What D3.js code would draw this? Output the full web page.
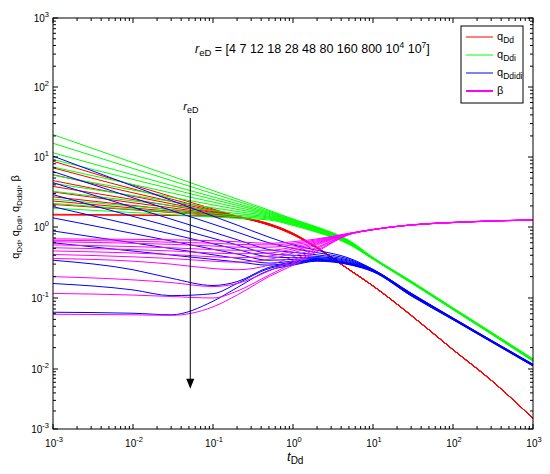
<!DOCTYPE html>
<html>
<head>
<meta charset="utf-8">
<script src="https://cdn.jsdelivr.net/npm/d3@7"></script>
<style>
body { margin: 0; background: #fff; }
text { font-family: "Liberation Sans", Arial, Helvetica, sans-serif; fill: #000; }
</style>
</head>
<body>
<script>
// dimensionless time grid shared by every curve
var tGrid = [0.001, 0.01, 0.03, 0.1, 0.2, 0.5, 1, 2, 5, 10, 30, 100, 300, 1000];
var reDLabels = ["4", "7", "12", "18", "28", "48", "80", "160", "800", "10^4", "10^7"];

// q_Dd, one row per reD
var qDd = [
  [1.48, 1.47, 1.46, 1.42, 1.36, 1.06, 0.78, 0.500, 0.252, 0.148, 0.057, 0.0187, 0.0065, 0.0015],
  [1.52, 1.49, 1.47, 1.43, 1.37, 1.07, 0.78, 0.502, 0.252, 0.148, 0.057, 0.0187, 0.0065, 0.0015],
  [2.10, 1.76, 1.61, 1.47, 1.39, 1.07, 0.79, 0.503, 0.252, 0.148, 0.057, 0.0187, 0.0065, 0.0015],
  [2.35, 1.87, 1.68, 1.49, 1.39, 1.08, 0.79, 0.505, 0.252, 0.148, 0.057, 0.0187, 0.0065, 0.0015],
  [2.70, 2.03, 1.77, 1.53, 1.40, 1.08, 0.79, 0.506, 0.252, 0.148, 0.057, 0.0187, 0.0065, 0.0015],
  [3.17, 2.22, 1.88, 1.56, 1.40, 1.09, 0.80, 0.508, 0.252, 0.148, 0.057, 0.0187, 0.0065, 0.0015],
  [3.80, 2.47, 2.01, 1.61, 1.41, 1.09, 0.80, 0.509, 0.252, 0.148, 0.057, 0.0187, 0.0065, 0.0015],
  [4.60, 2.75, 2.15, 1.65, 1.41, 1.10, 0.80, 0.511, 0.252, 0.148, 0.057, 0.0187, 0.0065, 0.0015],
  [5.60, 3.08, 2.32, 1.70, 1.42, 1.10, 0.81, 0.512, 0.252, 0.148, 0.057, 0.0187, 0.0065, 0.0015],
  [7.00, 3.50, 2.51, 1.75, 1.42, 1.11, 0.81, 0.514, 0.252, 0.148, 0.057, 0.0187, 0.0065, 0.0015],
  [8.70, 3.97, 2.73, 1.81, 1.43, 1.12, 0.82, 0.515, 0.252, 0.148, 0.057, 0.0187, 0.0065, 0.0015]
];

// q_Ddi
var qDdi = [
  [1.86, 1.61, 1.50, 1.39, 1.33, 1.26, 1.05, 0.84, 0.57, 0.352, 0.163, 0.0685, 0.0311, 0.0129],
  [2.17, 1.79, 1.64, 1.48, 1.40, 1.30, 1.08, 0.86, 0.58, 0.354, 0.164, 0.0689, 0.0313, 0.0130],
  [2.50, 1.98, 1.78, 1.57, 1.47, 1.34, 1.10, 0.87, 0.58, 0.356, 0.165, 0.0693, 0.0315, 0.0131],
  [3.24, 2.36, 2.03, 1.72, 1.56, 1.38, 1.13, 0.89, 0.59, 0.358, 0.166, 0.0697, 0.0317, 0.0132],
  [4.20, 2.81, 2.32, 1.88, 1.67, 1.42, 1.15, 0.90, 0.60, 0.360, 0.167, 0.0701, 0.0319, 0.0133],
  [5.50, 3.37, 2.67, 2.07, 1.79, 1.47, 1.18, 0.92, 0.61, 0.362, 0.168, 0.0705, 0.0321, 0.0134],
  [7.20, 4.05, 3.07, 2.27, 1.91, 1.52, 1.20, 0.94, 0.62, 0.364, 0.169, 0.0709, 0.0323, 0.0135],
  [9.20, 4.78, 3.50, 2.48, 2.04, 1.57, 1.23, 0.95, 0.62, 0.366, 0.170, 0.0713, 0.0325, 0.0136],
  [11.5, 5.56, 3.94, 2.69, 2.16, 1.62, 1.25, 0.97, 0.63, 0.368, 0.171, 0.0717, 0.0327, 0.0137],
  [15.7, 6.86, 4.62, 3.00, 2.34, 1.68, 1.28, 0.98, 0.64, 0.370, 0.172, 0.0721, 0.0329, 0.0138],
  [20.9, 8.32, 5.36, 3.31, 2.51, 1.74, 1.30, 1.00, 0.65, 0.372, 0.173, 0.0725, 0.0331, 0.0139]
];

// q_Ddidi
var qDdidi = [
  [0.063, 0.061, 0.058, 0.090, 0.140, 0.245, 0.29, 0.330, 0.295, 0.234, 0.107, 0.0494, 0.0241, 0.0110],
  [0.160, 0.130, 0.108, 0.115, 0.160, 0.260, 0.30, 0.335, 0.298, 0.236, 0.108, 0.0497, 0.0243, 0.0111],
  [0.340, 0.250, 0.190, 0.150, 0.170, 0.270, 0.31, 0.340, 0.301, 0.238, 0.109, 0.0500, 0.0244, 0.0111],
  [0.600, 0.458, 0.403, 0.350, 0.323, 0.290, 0.32, 0.345, 0.304, 0.240, 0.110, 0.0503, 0.0245, 0.0112],
  [0.880, 0.598, 0.497, 0.406, 0.362, 0.310, 0.33, 0.350, 0.307, 0.242, 0.111, 0.0506, 0.0247, 0.0113],
  [1.350, 0.810, 0.635, 0.486, 0.417, 0.340, 0.35, 0.360, 0.312, 0.244, 0.112, 0.0509, 0.0248, 0.0113],
  [1.950, 1.064, 0.797, 0.580, 0.484, 0.380, 0.37, 0.370, 0.320, 0.246, 0.113, 0.0512, 0.0249, 0.0114],
  [2.900, 1.417, 1.007, 0.693, 0.559, 0.420, 0.40, 0.385, 0.330, 0.248, 0.114, 0.0515, 0.0251, 0.0115],
  [4.300, 1.909, 1.295, 0.847, 0.663, 0.480, 0.44, 0.405, 0.340, 0.250, 0.115, 0.0518, 0.0252, 0.0115],
  [6.200, 2.610, 1.727, 1.099, 0.846, 0.600, 0.50, 0.435, 0.352, 0.252, 0.116, 0.0521, 0.0253, 0.0116],
  [10.30, 3.840, 2.400, 1.430, 1.066, 0.720, 0.56, 0.470, 0.365, 0.254, 0.117, 0.0524, 0.0255, 0.0117]
];

// beta
var beta = [
  [0.059, 0.058, 0.057, 0.075, 0.110, 0.20, 0.29, 0.45, 0.780, 0.915, 1.065, 1.155, 1.215, 1.255],
  [0.116, 0.110, 0.105, 0.100, 0.125, 0.21, 0.31, 0.47, 0.785, 0.916, 1.066, 1.156, 1.216, 1.256],
  [0.200, 0.180, 0.165, 0.145, 0.160, 0.24, 0.34, 0.50, 0.790, 0.917, 1.067, 1.157, 1.217, 1.257],
  [0.360, 0.330, 0.300, 0.260, 0.250, 0.29, 0.38, 0.52, 0.790, 0.918, 1.068, 1.158, 1.218, 1.258],
  [0.410, 0.380, 0.360, 0.330, 0.320, 0.35, 0.43, 0.56, 0.795, 0.919, 1.069, 1.159, 1.219, 1.259],
  [0.460, 0.430, 0.410, 0.380, 0.370, 0.39, 0.46, 0.58, 0.800, 0.920, 1.070, 1.160, 1.220, 1.260],
  [0.510, 0.480, 0.460, 0.430, 0.420, 0.43, 0.49, 0.60, 0.800, 0.921, 1.071, 1.161, 1.221, 1.261],
  [0.560, 0.530, 0.510, 0.480, 0.470, 0.47, 0.52, 0.62, 0.805, 0.922, 1.072, 1.162, 1.222, 1.262],
  [0.620, 0.590, 0.570, 0.540, 0.520, 0.52, 0.56, 0.64, 0.810, 0.923, 1.073, 1.163, 1.223, 1.263],
  [0.650, 0.630, 0.610, 0.590, 0.570, 0.56, 0.59, 0.66, 0.810, 0.924, 1.074, 1.164, 1.224, 1.264],
  [0.680, 0.670, 0.660, 0.640, 0.620, 0.59, 0.62, 0.68, 0.815, 0.925, 1.075, 1.165, 1.225, 1.265]
];

var seriesNames = ["Dd", "Ddi", "Ddidi", "β"];
var seriesColors = ["#ff0000", "#00ff00", "#0000ff", "#ff00ff"];

// arrow marking increasing reD
var arrowT = 0.052;
var arrowQ = [36, 0.0047];

var width = 550;
var height = 474;
var plotLeft = 53, plotRight = 533, plotTop = 18, plotBottom = 429;

var x = d3.scaleLog().domain([1e-3, 1e3]).range([plotLeft, plotRight]);
// the figure's lowest decade is drawn a bit shorter than the others
var y = d3.scaleLog()
  .domain([1e-3, 1e-2, 1e-1, 1, 10, 100, 1000])
  .range([plotBottom, 369, 298, 227, 157, 87, plotTop]);

var svg = d3.select("body")
  .append("svg")
  .attr("width", width)
  .attr("height", height);
svg.append("rect").attr("width", width).attr("height", height).attr("fill", "#ffffff");

svg.append("defs").append("clipPath")
  .attr("id", "plotclip")
  .append("rect")
  .attr("x", plotLeft).attr("y", plotTop)
  .attr("width", plotRight - plotLeft).attr("height", plotBottom - plotTop);

var line = d3.line()
  .x(function (d) { return x(d[0]); })
  .y(function (d) { return y(d[1]); })
  .curve(d3.curveMonotoneX);

function toPoints(row) {
  return tGrid.map(function (t, j) { return [t, row[j]]; });
}

var plot = svg.append("g").attr("clip-path", "url(#plotclip)");
var families = [
  { rows: qDd, color: seriesColors[0] },
  { rows: qDdi, color: seriesColors[1] },
  { rows: qDdidi, color: seriesColors[2] },
  { rows: beta, color: seriesColors[3] }
];
families.forEach(function (f) {
  plot.append("g")
    .selectAll("path")
    .data(f.rows)
    .enter()
    .append("path")
    .attr("d", function (d) { return line(toPoints(d)); })
    .attr("fill", "none")
    .attr("stroke", f.color)
    .attr("stroke-width", 1);
});

// frame and ticks on all four sides
svg.append("rect")
  .attr("x", plotLeft).attr("y", plotTop)
  .attr("width", plotRight - plotLeft).attr("height", plotBottom - plotTop)
  .attr("fill", "none").attr("stroke", "#000").attr("stroke-width", 1);

var majors = d3.range(-3, 4).map(function (e) { return Math.pow(10, e); });
var minors = [];
d3.range(-3, 3).forEach(function (e) {
  for (var m = 2; m <= 9; m++) minors.push(m * Math.pow(10, e));
});
var tickData = majors.map(function (v) { return { v: v, len: 5 }; })
  .concat(minors.map(function (v) { return { v: v, len: 3 }; }));

var ticks = svg.append("g").attr("stroke", "#000").attr("stroke-width", 1);
tickData.forEach(function (d) {
  var xv = x(d.v), yv = y(d.v);
  ticks.append("line").attr("x1", xv).attr("x2", xv).attr("y1", plotBottom).attr("y2", plotBottom - d.len);
  ticks.append("line").attr("x1", xv).attr("x2", xv).attr("y1", plotTop).attr("y2", plotTop + d.len);
  ticks.append("line").attr("y1", yv).attr("y2", yv).attr("x1", plotLeft).attr("x2", plotLeft + d.len);
  ticks.append("line").attr("y1", yv).attr("y2", yv).attr("x1", plotRight).attr("x2", plotRight - d.len);
});

function powLabel(sel, v) {
  var e = Math.round(Math.log10(v));
  sel.append("tspan").text("10");
  sel.append("tspan").attr("dy", -5).attr("font-size", 7.5).text(e);
}

majors.forEach(function (v) {
  var tx = svg.append("text")
    .attr("x", x(v) + 1).attr("y", 447)
    .attr("text-anchor", "middle").attr("font-size", 10);
  powLabel(tx, v);
  var ty = svg.append("text")
    .attr("x", 49).attr("y", y(v) + 4)
    .attr("text-anchor", "end").attr("font-size", 10);
  powLabel(ty, v);
});

// axis titles
var xl = svg.append("text").attr("x", 287).attr("y", 461).attr("font-size", 13);
xl.append("tspan").attr("font-style", "italic").text("t");
xl.append("tspan").attr("dy", 3).attr("font-size", 10).text("Dd");

var yl = svg.append("text")
  .attr("transform", "translate(19,217) rotate(-90)")
  .attr("text-anchor", "middle").attr("font-size", 11);
yl.append("tspan").text("q");
yl.append("tspan").attr("dy", 3).attr("font-size", 8).text("Dd");
yl.append("tspan").attr("dy", -3).text(", q");
yl.append("tspan").attr("dy", 3).attr("font-size", 8).text("Ddi");
yl.append("tspan").attr("dy", -3).text(", q");
yl.append("tspan").attr("dy", 3).attr("font-size", 8).text("Ddidi");
yl.append("tspan").attr("dy", -3).text(", β");

// reD list annotation
var ann = svg.append("text").attr("x", 195).attr("y", 53).attr("font-size", 12.5);
ann.append("tspan").attr("font-style", "italic").text("r");
ann.append("tspan").attr("dy", 3).attr("font-size", 9.5).text("eD");
var shift = -3;
ann.append("tspan").attr("dy", shift).text(" = [");
shift = 0;
reDLabels.forEach(function (r, i) {
  var sep = i === 0 ? "" : " ";
  if (r.indexOf("^") > 0) {
    var parts = r.split("^");
    ann.append("tspan").attr("dy", shift).text(sep + parts[0]);
    ann.append("tspan").attr("dy", -5).attr("font-size", 8.5).text(parts[1]);
    shift = 5;
  } else {
    ann.append("tspan").attr("dy", shift).text(sep + r);
    shift = 0;
  }
});
ann.append("tspan").attr("dy", shift).text("]");

// arrow
var ax = x(arrowT);
svg.append("line")
  .attr("x1", ax).attr("x2", ax)
  .attr("y1", y(arrowQ[0])).attr("y2", y(arrowQ[1]) - 8)
  .attr("stroke", "#000").attr("stroke-width", 1);
svg.append("path")
  .attr("d", "M" + (ax - 4) + "," + (y(arrowQ[1]) - 10) + "L" + (ax + 4) + "," + (y(arrowQ[1]) - 10) + "L" + ax + "," + y(arrowQ[1]) + "Z")
  .attr("fill", "#000");
var al = svg.append("text").attr("x", ax - 7).attr("y", y(arrowQ[0]) - 8).attr("font-size", 11.5);
al.append("tspan").attr("font-style", "italic").text("r");
al.append("tspan").attr("dy", 3).attr("font-size", 9).text("eD");

// legend
var lg = svg.append("g");
lg.append("rect")
  .attr("x", 461).attr("y", 26).attr("width", 62).attr("height", 77)
  .attr("fill", "#fff").attr("stroke", "#000").attr("stroke-width", 1);
var rows = lg.selectAll("g.entry")
  .data(seriesNames)
  .enter()
  .append("g")
  .classed("entry", true)
  .attr("transform", function (d, i) { return "translate(0," + (37 + i * 18) + ")"; });
rows.append("line")
  .attr("x1", 466).attr("x2", 493).attr("y1", 0).attr("y2", 0)
  .attr("stroke", function (d, i) { return seriesColors[i]; })
  .attr("stroke-width", function (d, i) { return i === 3 ? 2 : 1; });
rows.each(function (d, i) {
  var t = d3.select(this).append("text").attr("x", 497).attr("y", 3).attr("font-size", 11);
  if (d === "β") {
    t.text("β");
  } else {
    t.append("tspan").text("q");
    t.append("tspan").attr("dy", 3).attr("font-size", 8.5).text(d);
  }
});
</script>
</body>
</html>
